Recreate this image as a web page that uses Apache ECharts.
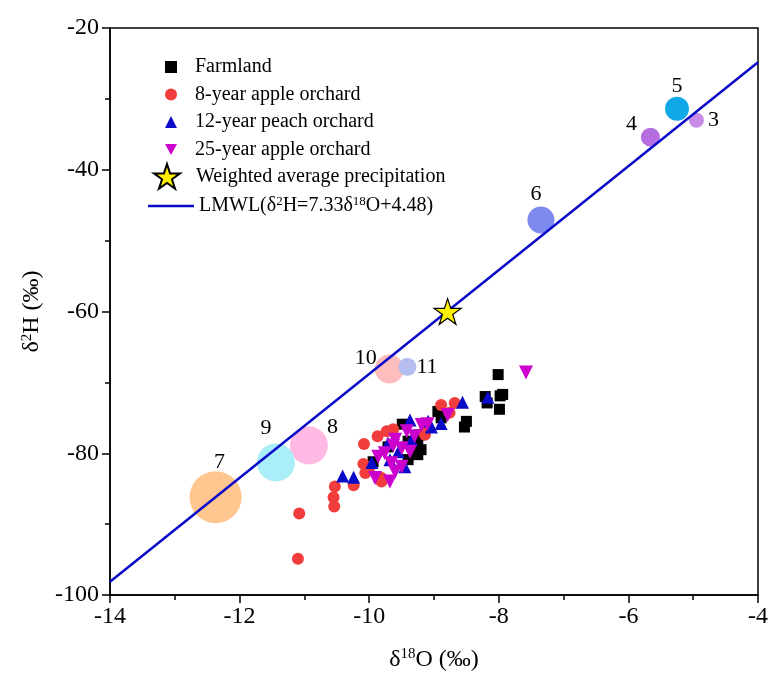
<!DOCTYPE html>
<html>
<head>
<meta charset="utf-8">
<script src="https://cdn.jsdelivr.net/npm/echarts@6/dist/echarts.min.js"></script>
<style>
  html, body { margin: 0; padding: 0; background: #fff; }
  #chart { width: 771px; height: 677px; }
</style>
</head>
<body>
<div id="chart"></div>
<script>
// axis ranges
const xRange = [-14, -4, 2];
const yRange = [-100, -20, 20];

// soil water samples, [δ18O, δ2H]
const farmland = [
  [-8.01, -68.9], [-8.21, -72.0], [-7.98, -71.9], [-7.99, -73.8], [-8.18, -72.9],
  [-8.50, -75.5], [-8.53, -76.3], [-8.94, -74.1], [-8.89, -75.0], [-9.49, -75.9],
  [-9.25, -78.6], [-9.25, -80.2], [-9.22, -77.4], [-9.94, -81.2], [-9.40, -80.9],
  [-9.12, -76.0], [-9.40, -78.3], [-9.71, -79.1], [-9.20, -79.5], [-7.94, -71.7]
];
const apple8 = [
  [-11.08, -88.5], [-11.10, -94.9], [-10.53, -84.7], [-10.55, -86.2], [-10.54, -87.5],
  [-10.24, -84.5], [-10.08, -78.7], [-10.09, -81.5], [-10.06, -82.8], [-9.87, -77.6],
  [-9.73, -76.9], [-9.63, -76.6], [-8.89, -73.2], [-8.68, -72.9], [-8.76, -74.3],
  [-9.14, -77.4], [-9.81, -84.0], [-10.01, -82.3], [-9.81, -83.5], [-9.14, -76.2]
];
const peach12 = [
  [-10.41, -83.2], [-10.24, -83.4], [-9.96, -81.3], [-8.56, -72.8], [-8.17, -72.1],
  [-9.37, -75.3], [-8.89, -75.8], [-9.71, -78.6], [-9.04, -76.3], [-9.45, -81.9],
  [-9.68, -80.9], [-9.09, -75.5], [-9.35, -78.1], [-9.55, -79.8]
];
const apple25 = [
  [-7.58, -68.6], [-8.79, -74.6], [-9.10, -75.9], [-9.42, -76.9], [-9.30, -77.6],
  [-9.60, -78.1], [-9.50, -79.3], [-9.37, -79.8], [-9.76, -80.0], [-9.86, -80.5],
  [-9.66, -81.4], [-9.50, -81.9], [-9.91, -83.5], [-9.68, -84.0], [-9.19, -76.0],
  [-9.60, -82.6], [-9.63, -78.9]
];
const precipAvg = [[-8.79, -60.0]];

// numbered precipitation events
const eventIds = ['3', '4', '5', '6', '7', '8', '9', '10', '11'];
const eventX = [-4.95, -5.66, -5.25, -7.35, -12.37, -10.93, -11.44, -9.69, -9.41];
const eventY = [-33.0, -35.4, -31.4, -47.1, -86.2, -78.9, -81.3, -68.1, -67.8];

// LMWL end points
const lmwlX = [-14, -4];
const lmwlY = [-98.14, -24.84];

// bubble looks
const eventSize = [15, 19, 24, 27, 52, 38, 38, 29, 18];
const eventColor = ['#c98de8', '#b56ee0', '#11a8e8', '#7d8af0', '#ffc690', '#ffb9e3', '#a9eef8', '#ffbdbd', '#b4bdf0'];
const eventLabelPos = ['right', 'left', 'top', 'top', 'top', 'right', 'top', 'left', 'right'];
const eventLabelOffset = [[0, 0], [0, -13], [0, 4], [-5, 3], [4, 6], [-5, -18], [-10, 0], [6, -11], [-4, 0]];

const FONT = "'Liberation Serif', 'Times New Roman', serif";
const STAR = 'path://M50,0 L61.2,34.5 L97.6,34.5 L68.2,55.9 L79.4,90.5 L50,69.1 L20.6,90.5 L31.8,55.9 L2.4,34.5 L38.8,34.5 Z';
const DOWN_TRI = 'path://M0,0 L12,0 L6,11 Z';
const LMWL_NAME = 'LMWL';
const BLUE = '#0a0ac8';

const chart = echarts.init(document.getElementById('chart'), null, { renderer: 'canvas' });

const eventData = eventIds.map((id, i) => ({
  name: id,
  value: [eventX[i], eventY[i]],
  symbolSize: eventSize[i],
  itemStyle: { color: eventColor[i], opacity: 1 },
  label: { position: eventLabelPos[i], offset: eventLabelOffset[i] }
}));

function richText(parts) {
  return parts.map(p => p[1] ? '{s|' + p[0] + '}' : '{n|' + p[0] + '}').join('');
}

function textStyle(size, supSize, pad) {
  return {
    fontFamily: FONT,
    fontSize: size,
    color: '#000',
    padding: [0, 0, 0, pad || 0],
    rich: {
      n: { fontSize: size, lineHeight: size + 2, fontFamily: FONT, color: '#000' },
      s: { fontSize: supSize, lineHeight: supSize, verticalAlign: 'top', fontFamily: FONT, color: '#000' }
    }
  };
}

const tickStyle = { color: '#000', width: 1.5 };

const option = {
  backgroundColor: '#fff',
  animation: false,
  textStyle: { fontFamily: FONT },
  grid: {
    left: 110, right: 9, top: 28, bottom: 82,
    show: true, borderColor: '#000', borderWidth: 1.5
  },
  legend: [
    {
      data: ['Farmland', '8-year apple orchard', '12-year peach orchard',
        { name: '25-year apple orchard', icon: DOWN_TRI }],
      orient: 'vertical', left: 160, top: 52,
      itemWidth: 12, itemHeight: 12, itemGap: 7.5,
      textStyle: textStyle(20, 13, 13)
    },
    {
      data: ['Weighted average precipitation'],
      orient: 'vertical', left: 148, top: 158,
      itemWidth: 26, itemHeight: 26,
      textStyle: textStyle(20, 13, 11)
    },
    {
      data: [{ name: LMWL_NAME, icon: 'rect' }],
      orient: 'vertical', left: 143, top: 190,
      itemWidth: 46, itemHeight: 2.5,
      textStyle: textStyle(20, 13, 0),
      formatter: () => richText([['LMWL(δ'], ['2', 1], ['H=7.33δ'], ['18', 1], ['O+4.48)']])
    }
  ],
  xAxis: {
    type: 'value',
    min: xRange[0], max: xRange[1], interval: xRange[2],
    name: richText([['δ'], ['18', 1], ['O (‰)']]),
    nameLocation: 'middle', nameGap: 52,
    nameTextStyle: textStyle(24, 15),
    axisLine: { lineStyle: tickStyle },
    axisTick: { inside: false, length: 8, lineStyle: tickStyle },
    minorTick: { show: true, splitNumber: 2, length: 5, lineStyle: tickStyle },
    axisLabel: { fontSize: 24, color: '#000', fontFamily: FONT, margin: 10 },
    splitLine: { show: false }
  },
  yAxis: {
    type: 'value',
    min: yRange[0], max: yRange[1], interval: yRange[2],
    name: richText([['δ'], ['2', 1], ['H (‰)']]),
    nameLocation: 'middle', nameGap: 64, nameRotate: 90,
    nameTextStyle: textStyle(24, 15),
    axisLine: { lineStyle: tickStyle },
    axisTick: { inside: false, length: 8, lineStyle: tickStyle },
    minorTick: { show: true, splitNumber: 2, length: 5, lineStyle: tickStyle },
    axisLabel: { fontSize: 24, color: '#000', fontFamily: FONT, margin: 11 },
    splitLine: { show: false }
  },
  series: [
    {
      name: 'events',
      type: 'scatter',
      data: eventData,
      z: 1,
      label: { show: true, formatter: '{b}', fontSize: 22, color: '#000', fontFamily: FONT, distance: 4 }
    },
    {
      name: LMWL_NAME,
      type: 'line',
      data: lmwlX.map((x, i) => [x, lmwlY[i]]),
      symbol: 'none',
      z: 2,
      lineStyle: { color: BLUE, width: 2.5 },
      itemStyle: { color: BLUE }
    },
    {
      name: 'Farmland', type: 'scatter', data: farmland, z: 3,
      symbol: 'rect', symbolSize: 11, itemStyle: { color: '#000', opacity: 1 }
    },
    {
      name: '8-year apple orchard', type: 'scatter', data: apple8, z: 3,
      symbol: 'circle', symbolSize: 12, itemStyle: { color: '#f23d3d', opacity: 1 }
    },
    {
      name: '12-year peach orchard', type: 'scatter', data: peach12, z: 3,
      symbol: 'triangle', symbolSize: 13, itemStyle: { color: BLUE, opacity: 1 }
    },
    {
      name: '25-year apple orchard', type: 'scatter', data: apple25, z: 3,
      symbol: 'triangle', symbolRotate: 180, symbolSize: 14, itemStyle: { color: '#cc00cc', opacity: 1 }
    },
    {
      name: 'Weighted average precipitation', type: 'scatter', data: precipAvg, z: 4,
      symbol: STAR, symbolKeepAspect: true, symbolSize: 27,
      itemStyle: { color: '#fff000', borderColor: '#000', borderWidth: 1.2, opacity: 1 }
    }
  ]
};

chart.setOption(option);
</script>
</body>
</html>
